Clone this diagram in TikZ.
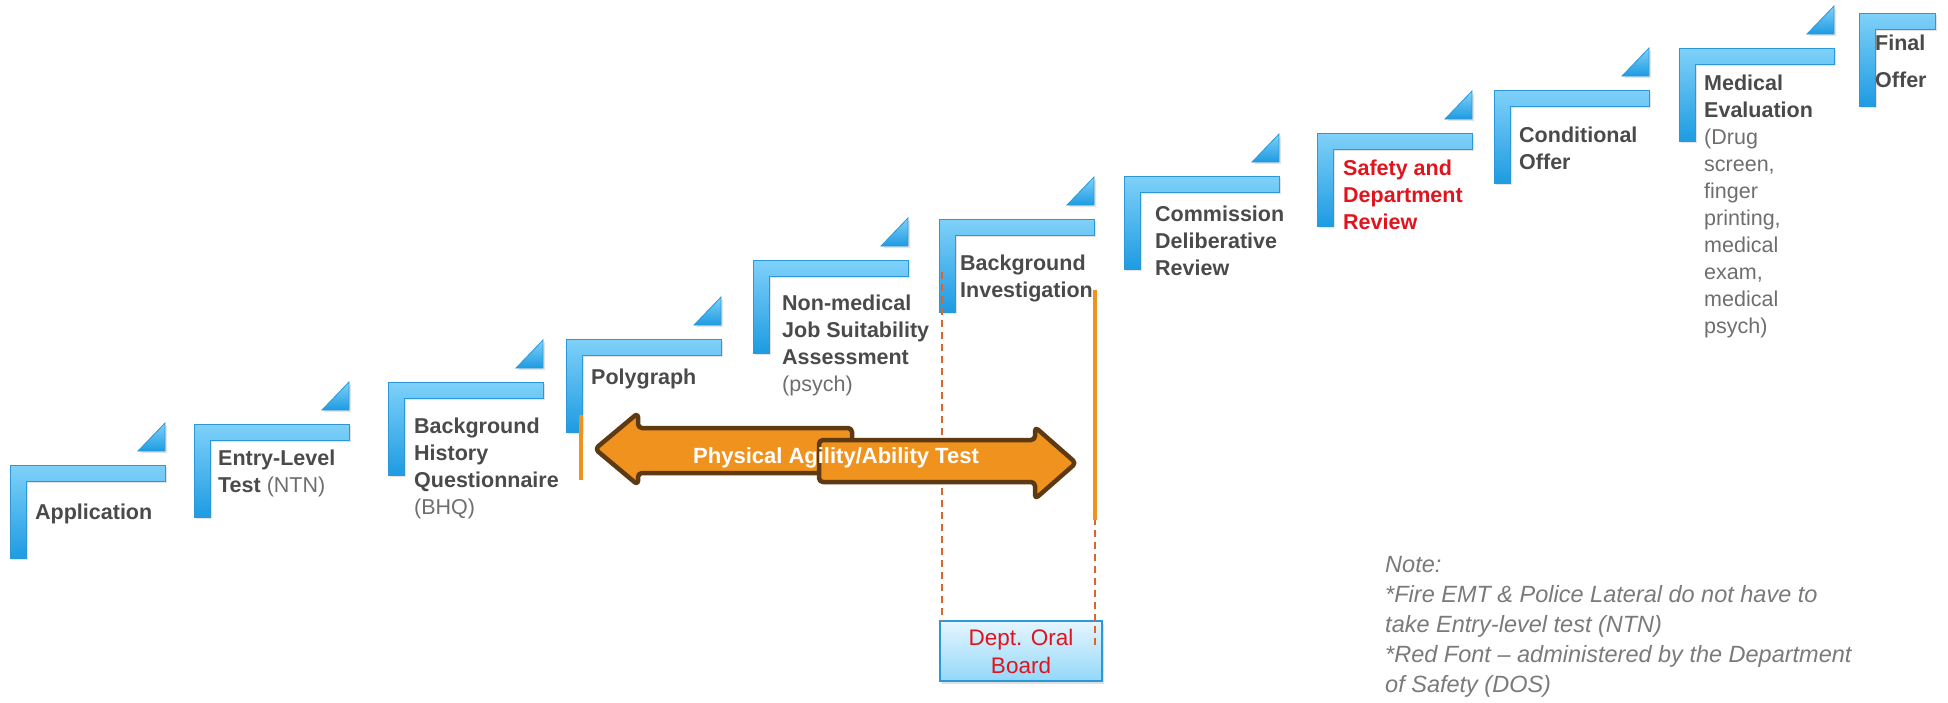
\documentclass[tikz,border=0pt]{standalone}
\usepackage{fontspec}
\setmainfont{Liberation Sans}
\usepackage{tikz}
\usetikzlibrary{shadows}

\definecolor{steplight}{HTML}{7FD1F9}
\definecolor{stepblue}{HTML}{1E9BE2}
\definecolor{stepedge}{HTML}{2C98D8}
\definecolor{titlegray}{HTML}{4A4A4A}
\definecolor{subgray}{HTML}{6E6E6E}
\definecolor{dosred}{HTML}{E1141E}
\definecolor{agility}{HTML}{F0921E}
\definecolor{agilityedge}{HTML}{5E3A12}
\definecolor{dashred}{HTML}{D9642E}
\definecolor{notegray}{HTML}{7A7A7A}

\newcommand\subtxt[1]{{\mdseries\color{subgray}#1}}

\begin{document}
\begin{tikzpicture}[x=1pt, y=-1pt,
  stepbar/.style={top color=steplight, bottom color=stepblue, draw=stepedge, line width=0.8pt,
    drop shadow={opacity=0.22, shadow xshift=2pt, shadow yshift=-2pt}},
  steptext/.style={anchor=north west, inner sep=0pt, align=left, text=titlegray,
    font=\fontsize{21.5}{27}\selectfont\bfseries},
  arrowpiece/.style={fill=agility, draw=agilityedge, line width=4.5pt, rounded corners=4pt, line join=round},
  boarddash/.style={dashred, dashed, line width=1.6pt, dash pattern=on 7pt off 5pt},
  patline/.style={agility, line width=4.5pt}]
\useasboundingbox (0,0) rectangle (1948,702);

% the steps
\foreach \sx/\sy in {10/465, 194/424, 388/382, 566/339, 753/260, 939/219, 1124/176, 1317/133, 1494/90, 1679/48}{
  \path[stepbar] (\sx,\sy) -- (\sx+155,\sy) -- (\sx+155,\sy+16) -- (\sx+16,\sy+16)
    -- (\sx+16,\sy+93) -- (\sx,\sy+93) -- cycle;
  \path[stepbar] (\sx+128,\sy-14) -- (\sx+155,\sy-14) -- (\sx+155,\sy-42) -- cycle;
}
\path[stepbar] (1859,13) -- (1935,13) -- (1935,29) -- (1875,29) -- (1875,106) -- (1859,106) -- cycle;

% step labels
\node[steptext] (application) at (35,504) {Application};
\node[steptext] (entry) at (218,450) {Entry-Level\\Test \subtxt{(NTN)}};
\node[steptext] (bhq) at (414,418) {Background\\History\\Questionnaire\\\subtxt{(BHQ)}};
\node[steptext] (polygraph) at (591,369) {Polygraph};
\node[steptext] (nonmed) at (782,295) {Non-medical\\Job Suitability\\Assessment\\\subtxt{(psych)}};
\node[steptext] (backinv) at (960,255) {Background\\Investigation};
\node[steptext] (commission) at (1155,206) {Commission\\Deliberative\\Review};
\node[steptext, text=dosred] (safety) at (1343,160) {Safety and\\Department\\Review};
\node[steptext] (conditional) at (1519,127) {Conditional\\Offer};
\node[steptext] (medical) at (1704,75) {Medical\\Evaluation\\\subtxt{(Drug}\\\subtxt{screen,}\\\subtxt{finger}\\\subtxt{printing,}\\\subtxt{medical}\\\subtxt{exam,}\\\subtxt{medical}\\\subtxt{psych)}};
\node[steptext, font=\fontsize{21.5}{37}\selectfont\bfseries] (final) at (1875,35) {Final\\Offer};

% oral board and its guides
\node[minimum width=162pt, minimum height=60pt, inner sep=0pt, top color=white!80!steplight,
  bottom color=steplight!85!white, draw=stepedge, line width=1.2pt, text=dosred, align=center,
  font=\fontsize{22.5}{28}\selectfont, drop shadow={opacity=0.25, shadow xshift=2pt, shadow yshift=-3pt}]
  (board) at (1021,651) {Dept. Oral\\Board};
\coordinate (bi-left) at (942,272);
\coordinate (bi-right) at (1095,290);
\coordinate (bi-right-end) at (1095,648);
\draw[boarddash] (bi-left) -- (bi-left |- board.north);
\draw[boarddash] (bi-right) -- (bi-right-end);

% physical agility
\coordinate (pat-left) at (581,415);
\coordinate (pat-left-end) at (581,480);
\coordinate (pat-right-end) at (1095,520);
\draw[patline] (pat-left) -- (pat-left-end);
\draw[patline] (bi-right) -- (pat-right-end);
\path[arrowpiece] (595,449) -- (638,413) -- (638,428) -- (852,428) -- (852,473) -- (638,473) -- (638,485) -- cycle;
\path[arrowpiece] (1076,463) -- (1035,427) -- (1035,440) -- (819,440) -- (819,482) -- (1035,482) -- (1035,499) -- cycle;
\node[text=white, font=\fontsize{22}{26}\selectfont\bfseries] (agilitytext) at (836,458) {Physical Agility/Ability Test};

% note
\node[anchor=north west, inner sep=0pt, align=left, text=notegray,
  font=\fontsize{23.5}{30}\selectfont\itshape] (note) at (1385,556)
  {Note:\\*Fire EMT \& Police Lateral do not have to\\take Entry-level test (NTN)\\*Red Font -- administered by the Department\\of Safety (DOS)};
\end{tikzpicture}
\end{document}
